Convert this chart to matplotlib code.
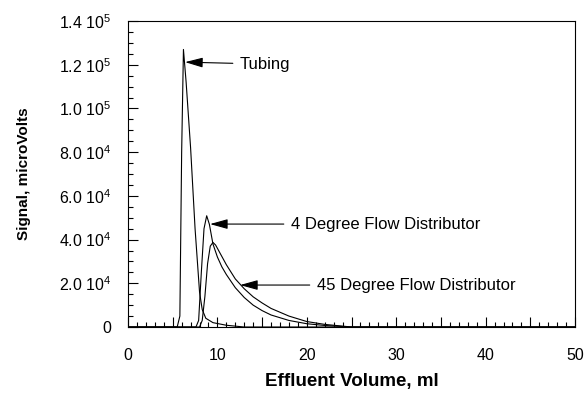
import numpy as np
import matplotlib
matplotlib.use("Agg")
import matplotlib.pyplot as plt
from matplotlib.ticker import MultipleLocator, FuncFormatter

params = {"font.family": "sans-serif",
          "font.sans-serif": ["Liberation Sans", "DejaVu Sans"],
          "mathtext.fontset": "custom",
          "mathtext.rm": "Liberation Sans",
          "font.size": 11}
plt.rcParams.update(params)

## curves (volume in ml, signal in microVolts)
tube_x = [0, 5.5, 5.8, 6.0, 6.2, 6.5, 7.0, 7.5, 8.0, 8.3, 8.7, 9.5, 11, 13, 50]
tube_y = [0, 0, 5000, 80000, 127000, 112000, 82000, 45000, 16000, 8000, 4000, 2000, 800, 0, 0]

deg4_x = [0, 7.6, 7.9, 8.2, 8.5, 8.8, 9.1, 9.5, 10, 10.5, 11, 12, 13, 14, 15, 16, 18, 20, 22, 25, 50]
deg4_y = [0, 0, 3000, 25000, 45000, 50900, 47000, 38000, 32000, 27500, 24000, 18000, 13500, 10000,
          7500, 5500, 3000, 1500, 700, 0, 0]

deg45_x = [0, 8.0, 8.3, 8.6, 8.9, 9.2, 9.5, 9.8, 10.2, 10.6, 11, 12, 13, 14, 15, 16, 18, 20, 22, 25, 50]
deg45_y = [0, 0, 3000, 14000, 29000, 37000, 38700, 37500, 34500, 31500, 28500, 22000, 17500, 13800,
           11000, 8500, 5000, 2500, 1200, 0, 0]

y_labels = {0: "0", 20000: "2.0 10$^4$", 40000: "4.0 10$^4$", 60000: "6.0 10$^4$",
            80000: "8.0 10$^4$", 100000: "1.0 10$^5$", 120000: "1.2 10$^5$", 140000: "1.4 10$^5$"}

fig = plt.figure(figsize=(5.88, 3.97), dpi=100)
ax = fig.add_axes([0.2177, 0.1763, 0.7603, 0.7707])

ax.plot(tube_x, tube_y, 'k-', lw=0.8)
ax.plot(deg4_x, deg4_y, 'k-', lw=0.8)
ax.plot(deg45_x, deg45_y, 'k-', lw=0.8)

ax.set_xlim(0, 50)
ax.set_ylim(0, 140000)

ax.xaxis.set_major_locator(MultipleLocator(5))
ax.xaxis.set_minor_locator(MultipleLocator(1))
ax.xaxis.set_major_formatter(FuncFormatter(lambda v, p: "%d" % v if int(round(v)) % 10 == 0 else ""))
ax.yaxis.set_major_locator(MultipleLocator(20000))
ax.yaxis.set_minor_locator(MultipleLocator(5000))
ax.yaxis.set_major_formatter(FuncFormatter(lambda v, p: y_labels.get(int(round(v)), "")))

ax.tick_params(which='both', direction='in', top=False, right=False, width=0.8)
ax.tick_params(which='major', length=7)
ax.tick_params(which='minor', length=3.5)
ax.tick_params(axis='x', pad=15, labelsize=11.5)
ax.tick_params(axis='y', pad=12, labelsize=11.5)
for s in ax.spines.values():
    s.set_linewidth(0.8)

ax.set_xlabel("Effluent Volume, ml", fontweight='bold', fontsize=13.5, labelpad=7)
ax.set_ylabel("Signal, microVolts", fontweight='bold', fontsize=11, labelpad=20)

arrow = dict(arrowstyle='-|>,head_length=0.9,head_width=0.25', color='k', lw=0.8,
             shrinkA=3, shrinkB=0)
ax.annotate("Tubing", xy=(6.38, 121200), xytext=(12.5, 120300), va='center',
            fontsize=12, arrowprops=arrow)
ax.annotate("4 Degree Flow Distributor", xy=(9.17, 47100), xytext=(18.2, 47100), va='center',
            fontsize=12, arrowprops=arrow)
ax.annotate("45 Degree Flow Distributor", xy=(12.53, 19200), xytext=(21.1, 19200), va='center',
            fontsize=12, arrowprops=arrow)

plt.savefig("out.png", dpi=100)
